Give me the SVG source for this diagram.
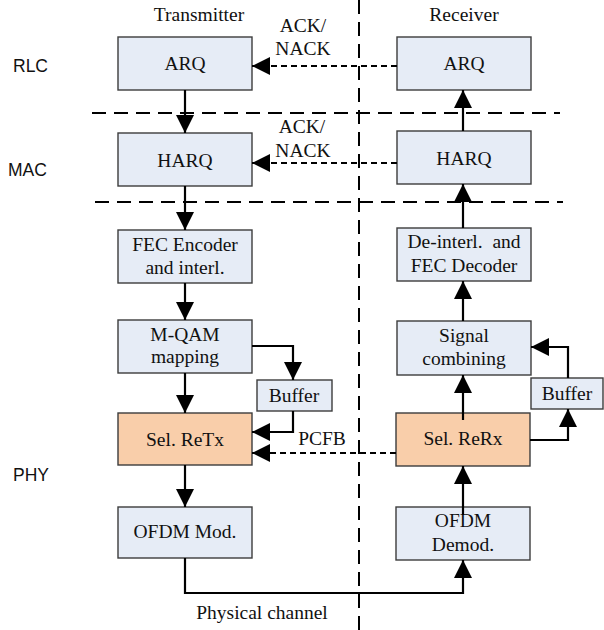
<svg xmlns="http://www.w3.org/2000/svg" width="604" height="630" viewBox="0 0 604 630">
<defs>
<style>
.box{fill:#E6ECF6;stroke:#3c3c3c;stroke-width:1.4}
.hot{fill:#F9CEAA;stroke:#3c3c3c;stroke-width:1.4}
.t{font-family:"Liberation Serif","Times New Roman",serif;font-size:19.5px;fill:#111;text-anchor:middle}
.lay{font-family:"Liberation Sans",Arial,sans-serif;font-size:17.5px;fill:#111}
.c{fill:none;stroke:#000;stroke-width:2.2}
.d{fill:none;stroke:#000;stroke-width:2;stroke-dasharray:6 4}
.div{fill:none;stroke:#000;stroke-width:2;stroke-dasharray:14 8}
</style>
<marker id="ah" markerUnits="userSpaceOnUse" markerWidth="18" markerHeight="18" refX="18" refY="9" orient="auto">
<path d="M0,0 L18,9 L0,18 Z" fill="#000"/>
</marker>
</defs>
<rect width="604" height="630" fill="#fff"/>

<g id="dividers">
<path class="div" d="M92,113 H560"/>
<path class="div" d="M95,202 H563"/>
<path class="div" d="M359,0 V630" stroke-dasharray="13 8"/>
</g>

<g id="layer-labels">
<text class="lay" x="13" y="72">RLC</text>
<text class="lay" x="8" y="176">MAC</text>
<text class="lay" x="13" y="481">PHY</text>
<text class="t" x="199" y="21">Transmitter</text>
<text class="t" x="464" y="21">Receiver</text>
</g>

<g id="tx-arq"><rect class="box" x="118" y="37" width="134" height="53"/><text class="t" x="185" y="70">ARQ</text></g>
<g id="tx-harq"><rect class="box" x="118" y="133" width="134" height="53"/><text class="t" x="185" y="167">HARQ</text></g>
<g id="tx-fec"><rect class="box" x="118" y="230" width="134" height="53"/><text class="t" x="185" y="251">FEC Encoder</text><text class="t" x="185" y="274">and interl.</text></g>
<g id="tx-mqam"><rect class="box" x="118" y="320" width="134" height="53"/><text class="t" x="185" y="341">M-QAM</text><text class="t" x="185" y="363">mapping</text></g>
<g id="tx-buffer"><rect class="box" x="257" y="380" width="75" height="31"/><text class="t" x="294" y="402">Buffer</text></g>
<g id="tx-selretx"><rect class="hot" x="118" y="413" width="134" height="52"/><text class="t" x="185" y="446">Sel. ReTx</text></g>
<g id="tx-ofdm"><rect class="box" x="118" y="507" width="134" height="51"/><text class="t" x="185" y="538">OFDM Mod.</text></g>

<g id="rx-arq"><rect class="box" x="397" y="37" width="134" height="53"/><text class="t" x="464" y="70">ARQ</text></g>
<g id="rx-harq"><rect class="box" x="397" y="131" width="134" height="53"/><text class="t" x="464" y="165">HARQ</text></g>
<g id="rx-deint"><rect class="box" x="397" y="228" width="134" height="53"/><text class="t" x="464" y="248" xml:space="preserve" style="white-space:pre">De-interl.  and</text><text class="t" x="464" y="272">FEC Decoder</text></g>
<g id="rx-signal"><rect class="box" x="397" y="321" width="134" height="54"/><text class="t" x="464" y="342">Signal</text><text class="t" x="464" y="365">combining</text></g>
<g id="rx-buffer"><rect class="box" x="531" y="378" width="72" height="31"/><text class="t" x="567" y="400">Buffer</text></g>
<g id="rx-selrerx"><rect class="hot" x="396" y="413" width="134" height="53"/><text class="t" x="463" y="445">Sel. ReRx</text></g>
<g id="rx-ofdm"><rect class="box" x="396" y="507" width="134" height="53"/><text class="t" x="463" y="527">OFDM</text><text class="t" x="463" y="551">Demod.</text></g>

<g id="connectors">
<path class="c" marker-end="url(#ah)" d="M185,90 V133"/>
<path class="c" marker-end="url(#ah)" d="M185,186 V230"/>
<path class="c" marker-end="url(#ah)" d="M185,283 V320"/>
<path class="c" marker-end="url(#ah)" d="M185,373 V413"/>
<path class="c" marker-end="url(#ah)" d="M252,346 H293 V380"/>
<path class="c" marker-end="url(#ah)" d="M293,411 V432 H252"/>
<path class="c" marker-end="url(#ah)" d="M185,465 V507"/>
<path class="c" marker-end="url(#ah)" d="M185,558 V593 H463 V560"/>
<path class="c" marker-end="url(#ah)" d="M463,515 V466"/>
<path class="c" marker-end="url(#ah)" d="M463,420 V375"/>
<path class="c" marker-end="url(#ah)" d="M530,440 H568 V409"/>
<path class="c" marker-end="url(#ah)" d="M568,378 V347 H531"/>
<path class="c" marker-end="url(#ah)" d="M463,321 V281"/>
<path class="c" marker-end="url(#ah)" d="M463,228 V184"/>
<path class="c" marker-end="url(#ah)" d="M463,131 V90"/>
<path class="d" marker-end="url(#ah)" d="M397,66 H252"/>
<path class="d" marker-end="url(#ah)" d="M397,163 H252"/>
<path class="d" marker-end="url(#ah)" d="M396,453 H252"/>
<text class="t" x="303" y="32">ACK/</text>
<text class="t" x="303" y="55">NACK</text>
<text class="t" x="302" y="133">ACK/</text>
<text class="t" x="303" y="157">NACK</text>
<text class="t" x="322" y="445">PCFB</text>
<text class="t" x="262" y="619">Physical channel</text>
</g>
</svg>
